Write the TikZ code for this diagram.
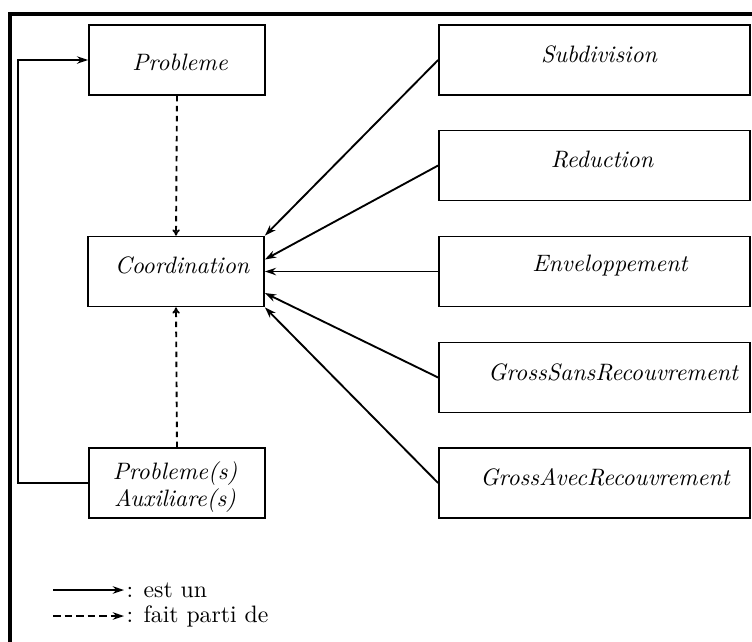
\documentclass[tikz,border=0pt]{standalone}
\usetikzlibrary{arrows.meta}
\begin{document}
\begin{tikzpicture}[x=0.4pt, y=-0.4pt,
  box/.style={draw, line width=0.7pt, rectangle, minimum height=28pt, inner sep=0pt},
  leftbox/.style={box, minimum width=70.4pt},
  rightbox/.style={box, minimum width=124.4pt},
  boxtext/.style={font=\fontsize{9.5}{11.5}\selectfont\itshape, inner sep=0pt, align=center},
  isa/.style={line width=0.75pt, -{Stealth[length=4.5pt, width=3pt]}},
  partof/.style={line width=0.75pt, dash pattern=on 2.2pt off 1.8pt, -{To[length=2.5pt, width=3pt]}},
  legendpart/.style={line width=0.75pt, dash pattern=on 3pt off 1.6pt, -{Stealth[length=4.5pt, width=3pt]}},
  legtext/.style={font=\fontsize{9.5}{11.5}\selectfont, anchor=west, inner sep=0pt}]
  \useasboundingbox (0,0) rectangle (752,641);

  % outer frame
  \draw[line width=1.3pt] (10,645) -- (10,14) -- (756,14);

  % boxes
  \node[leftbox] (prob) at (177,60) {};
  \node[leftbox] (coord) at (176,271.5) {};
  \node[leftbox] (aux) at (177,483) {};
  \node[rightbox] (subd) at (594.5,60) {};
  \node[rightbox] (redu) at (594.5,165.5) {};
  \node[rightbox] (env) at (594.5,271.5) {};
  \node[rightbox] (gsr) at (594.5,377.5) {};
  \node[rightbox] (gar) at (594.5,483) {};

  % box labels
  \node[boxtext] (tprob) at (180,62) {Probleme};
  \node[boxtext] (tcoord) at (182,265) {Coordination};
  \node[boxtext] (taux) at (175,487) {Probleme(s)\\[-1pt]Auxiliare(s)};
  \node[boxtext] (tsubd) at (599,54) {Subdivision};
  \node[boxtext] (tredu) at (602,160) {Reduction};
  \node[boxtext] (tenv) at (610,266) {Enveloppement};
  \node[boxtext] (tgsr) at (613,372) {GrossSansRecouvrement};
  \node[boxtext] (tgar) at (605,477) {GrossAvecRecouvrement};

  % "part of" links
  \draw[partof] (prob.south) -- (coord.north);
  \draw[partof] (aux.north) -- (coord.south);

  % "is a" links
  \draw[isa] (aux.west) -- ++(-70,0) |- (prob.west);
  \draw[isa] (subd.west) -- (coord.north east);
  \draw[isa] (redu.west) -- ([yshift=4.8pt]coord.east);
  \draw[isa] (env.west) -- (coord.east);
  \draw[isa] (gsr.west) -- ([yshift=-8.6pt]coord.east);
  \draw[isa] (gar.west) -- (coord.south east);

  % legend
  \coordinate (la1) at (53,590);
  \coordinate (la2) at (124,590);
  \coordinate (lb1) at (53,616);
  \coordinate (lb2) at (124,616);
  \draw[isa] (la1) -- (la2);
  \draw[legendpart] (lb1) -- (lb2);
  \node[legtext] (lisa) at (126,590) {: est un};
  \node[legtext] (lpart) at (126,616) {: fait parti de};
\end{tikzpicture}
\end{document}
